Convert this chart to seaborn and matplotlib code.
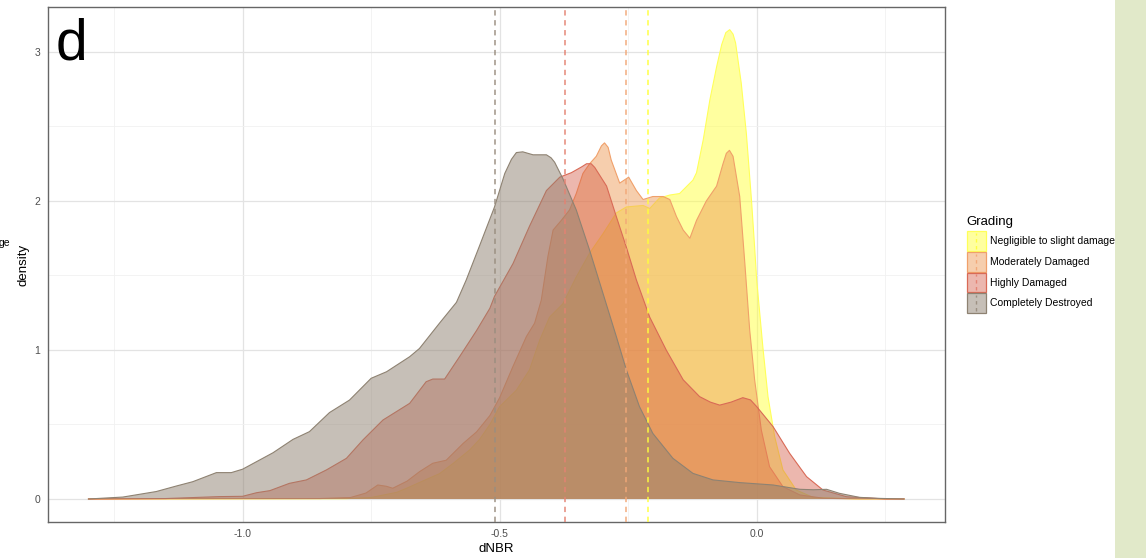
import numpy as np
import pandas as pd
import matplotlib
matplotlib.use("Agg")
import matplotlib.pyplot as plt
import matplotlib.colors as mcolors
from matplotlib.patches import Rectangle
from matplotlib.lines import Line2D
import seaborn as sns

# ---------------- data ----------------
categories = ["Negligible to slight damage", "Moderately Damaged",
              "Highly Damaged", "Completely Destroyed"]

x_negligible = [-1.30, -0.80, -0.75, -0.70, -0.681, -0.650, -0.617, -0.590, -0.558,
                -0.539, -0.519, -0.500, -0.4675, -0.442, -0.422, -0.403, -0.377,
                -0.351, -0.325, -0.299, -0.273, -0.2535, -0.221, -0.208, -0.189,
                -0.169, -0.150, -0.124, -0.117, -0.104, -0.091, -0.078, -0.068,
                -0.060, -0.0525, -0.046, -0.041, -0.030, -0.020, -0.010, -0.004,
                0.0, 0.012, 0.022, 0.035, 0.051, 0.077, 0.11, 0.20, 0.287]
y_negligible = [0.0, 0.002, 0.01, 0.045, 0.072, 0.12, 0.17, 0.24, 0.33,
                0.40, 0.50, 0.62, 0.73, 0.866, 1.067, 1.22, 1.31,
                1.49, 1.65, 1.78, 1.92, 1.96, 1.97, 1.95, 2.02,
                2.04, 2.05, 2.14, 2.19, 2.41, 2.68, 2.90, 3.05,
                3.13, 3.15, 3.12, 3.06, 2.79, 2.45, 2.0, 1.69,
                1.47, 1.02, 0.687, 0.418, 0.195, 0.06, 0.01, 0.0, 0.0]

x_moderate = [-1.30, -0.85, -0.79, -0.76, -0.737, -0.72, -0.708, -0.68, -0.656,
              -0.630, -0.604, -0.571, -0.545, -0.519, -0.500, -0.474, -0.448,
              -0.432, -0.419, -0.406, -0.396, -0.380, -0.364, -0.351, -0.338,
              -0.325, -0.312, -0.302, -0.296, -0.289, -0.283, -0.2665, -0.249, -0.234,
              -0.221, -0.202, -0.182, -0.169, -0.156, -0.143, -0.130, -0.117, -0.098,
              -0.078, -0.0655, -0.059, -0.053, -0.046, -0.033, -0.023, -0.0136, -0.004,
              0.009, 0.025, 0.051, 0.084, 0.13, 0.20, 0.287]
y_moderate = [0.0, 0.003, 0.01, 0.04, 0.094, 0.085, 0.072, 0.12, 0.183,
              0.24, 0.26, 0.373, 0.45, 0.56, 0.68, 0.89, 1.09,
              1.18, 1.335, 1.63, 1.805, 1.87, 1.94, 2.05, 2.185,
              2.25, 2.30, 2.37, 2.39, 2.36, 2.275, 2.12, 2.16, 2.07,
              2.01, 2.03, 2.03, 2.01, 1.895, 1.805, 1.75, 1.87, 2.0,
              2.10, 2.25, 2.32, 2.34, 2.30, 2.03, 1.58, 1.134, 0.80,
              0.463, 0.217, 0.083, 0.027, 0.005, 0.0, 0.0]

x_high = [-1.30, -1.15, -1.045, -1.000, -0.973, -0.947, -0.909, -0.876, -0.837,
          -0.798, -0.766, -0.727, -0.675, -0.643, -0.630, -0.607, -0.578, -0.545,
          -0.519, -0.510, -0.474, -0.442, -0.409, -0.383, -0.3605, -0.340, -0.331,
          -0.322, -0.315, -0.292, -0.273, -0.2535, -0.234, -0.208, -0.176, -0.143,
          -0.111, -0.090, -0.072, -0.050, -0.027, -0.012, 0.0, 0.032, 0.064, 0.097,
          0.129, 0.175, 0.25, 0.287]
y_high = [0.0, 0.003, 0.016, 0.018, 0.042, 0.056, 0.105, 0.128, 0.195,
          0.273, 0.396, 0.53, 0.642, 0.787, 0.805, 0.805, 0.955, 1.13,
          1.28, 1.36, 1.58, 1.83, 2.07, 2.16, 2.19, 2.23, 2.25,
          2.25, 2.225, 2.10, 1.895, 1.69, 1.47, 1.22, 1.0, 0.80,
          0.687, 0.65, 0.63, 0.65, 0.68, 0.665, 0.62, 0.485, 0.307, 0.15,
          0.06, 0.015, 0.0, 0.0]

x_destroyed = [-1.30, -1.233, -1.168, -1.129, -1.097, -1.051, -1.022, -1.000, -0.941,
               -0.902, -0.870, -0.831, -0.792, -0.750, -0.720, -0.675, -0.656, -0.617,
               -0.584, -0.565, -0.539, -0.510, -0.490, -0.477, -0.4675, -0.455, -0.435,
               -0.409, -0.400, -0.393, -0.377, -0.351, -0.325, -0.299, -0.273, -0.2535,
               -0.228, -0.202, -0.163, -0.124, -0.085, -0.033, 0.032, 0.084, 0.110,
               0.136, 0.161, 0.200, 0.240, 0.287]
y_destroyed = [0.0, 0.013, 0.05, 0.087, 0.116, 0.177, 0.177, 0.20, 0.31,
               0.40, 0.452, 0.58, 0.664, 0.81, 0.854, 0.955, 1.01, 1.18,
               1.32, 1.47, 1.70, 1.96, 2.185, 2.28, 2.325, 2.33, 2.31,
               2.31, 2.29, 2.26, 2.15, 1.94, 1.67, 1.38, 1.09, 0.866,
               0.62, 0.44, 0.273, 0.172, 0.128, 0.11, 0.094, 0.065, 0.062,
               0.065, 0.038, 0.011, 0.004, 0.0]

group_means = [-0.2114, -0.2535, -0.3735, -0.5097]

# ---------------- styles ----------------
fill_colors = {"Negligible to slight damage": "#FFFF40",
               "Moderately Damaged": "#EE9955",
               "Highly Damaged": "#D4553F",
               "Completely Destroyed": "#8F8170"}
fill_alphas = {"Negligible to slight damage": 0.5,
               "Moderately Damaged": 0.48,
               "Highly Damaged": 0.42,
               "Completely Destroyed": 0.5}
line_colors = {"Negligible to slight damage": "#FFFF5A",
               "Moderately Damaged": "#F0A06A",
               "Highly Damaged": "#D96A56",
               "Completely Destroyed": "#8E8272"}
mean_colors = {"Negligible to slight damage": "#FFFF3C",
               "Moderately Damaged": "#F2A878",
               "Highly Damaged": "#E48272",
               "Completely Destroyed": "#9A8E80"}

frames = []
for cat, xs, ys in zip(categories,
                       [x_negligible, x_moderate, x_high, x_destroyed],
                       [y_negligible, y_moderate, y_high, y_destroyed]):
    frames.append(pd.DataFrame({"dNBR": xs, "density": ys, "Grading": cat}))
df = pd.concat(frames, ignore_index=True)

sns.set_style("white")
plt.rcParams["font.family"] = ["Liberation Sans", "DejaVu Sans"]

W, H = 1146, 558
fig = plt.figure(figsize=(W / 100, H / 100), dpi=100)
fig.patch.set_facecolor("white")

def fx(px):
    return px / W

def fy(py):
    return 1 - py / H

ax_l, ax_r, ax_t, ax_b = 47.5, 945, 7, 522
ax = fig.add_axes([fx(ax_l), fy(ax_b), (ax_r - ax_l) / W, (ax_b - ax_t) / H])

ax.set_xlim(-1.3795, 0.3663)
ax.set_ylim(-0.1544, 3.302)
ax.set_xticks([-1.0, -0.5, 0.0])
ax.set_xticklabels(["-1.0", "-0.5", "0.0"])
ax.set_yticks([0, 1, 2, 3])
ax.set_yticklabels(["0", "1", "2", "3"])
ax.set_xticks([-1.25, -0.75, -0.25, 0.25], minor=True)
ax.set_yticks([0.5, 1.5, 2.5], minor=True)
ax.grid(True, which="major", color="#E3E3E3", lw=0.9, zorder=0)
ax.grid(True, which="minor", color="#F1F1F1", lw=0.6, zorder=0)
ax.set_axisbelow(True)
ax.tick_params(which="major", length=3, width=0.8, color="#555555",
               labelsize=7.5, labelcolor="#4D4D4D", pad=2)
ax.tick_params(which="minor", length=0)
for s in ax.spines.values():
    s.set_color("#666666")
    s.set_linewidth(1.0)
    s.set_visible(True)

# densities: drawn in legend order, last on top
for i, cat in enumerate(categories):
    sub = df[df["Grading"] == cat]
    ax.fill_between(sub["dNBR"], sub["density"], 0,
                    facecolor=mcolors.to_rgba(fill_colors[cat], fill_alphas[cat]),
                    edgecolor="none", zorder=2 + i)
    sns.lineplot(data=sub, x="dNBR", y="density", color=line_colors[cat], lw=0.8,
                 estimator=None, sort=True, ax=ax, legend=False, zorder=2.5 + i)

# mean lines
for cat, m in zip(categories, group_means):
    ax.axvline(m, color=mean_colors[cat], alpha=0.95, lw=1.1,
               ls=(0, (3.5, 3)), zorder=10)

ax.set_xlabel("")
ax.set_ylabel("")

# panel letter
fig.text(fx(56), fy(60), "d", fontsize=41, color="black", ha="left",
         va="baseline")

# axis titles
fig.text(fx(496), fy(549), "dNBR", fontsize=9.5, color="black",
         ha="center", va="center")
fig.text(fx(23), fy(265), "density", fontsize=9.5, color="black",
         ha="center", va="center", rotation=90)

# clipped text from neighbouring panel
fig.text(fx(-1), fy(243), "ge", fontsize=7.5, color="black",
         ha="left", va="center")

# legend (manual, ggplot-like)
fig.text(fx(966), fy(222), "Grading", fontsize=9.5, color="black",
         ha="left", va="center")
key_tops = [231, 252, 272.5, 293]
for cat, top in zip(categories, key_tops):
    fig.patches.append(Rectangle((fx(966.5), fy(top + 19.5)), 19.5 / W, 19.5 / H,
                                 transform=fig.transFigure,
                                 facecolor=mcolors.to_rgba(fill_colors[cat], fill_alphas[cat]),
                                 edgecolor=line_colors[cat], lw=0.9))
    fig.lines.append(Line2D([fx(976.2), fx(976.2)], [fy(top + 18), fy(top + 1.5)],
                            transform=fig.transFigure, color=mean_colors[cat],
                            alpha=0.95, lw=1.0, ls=(0, (2.5, 2.5))))
    fig.text(fx(989.5), fy(top + 10), cat, fontsize=7.5, color="black",
             ha="left", va="center")

# green strip on the right edge
fig.patches.append(Rectangle((fx(1115), 0), 1 - fx(1115), 1,
                             transform=fig.transFigure,
                             facecolor="#E1E9C9", edgecolor="none"))

fig.savefig("out.png", dpi=100)
